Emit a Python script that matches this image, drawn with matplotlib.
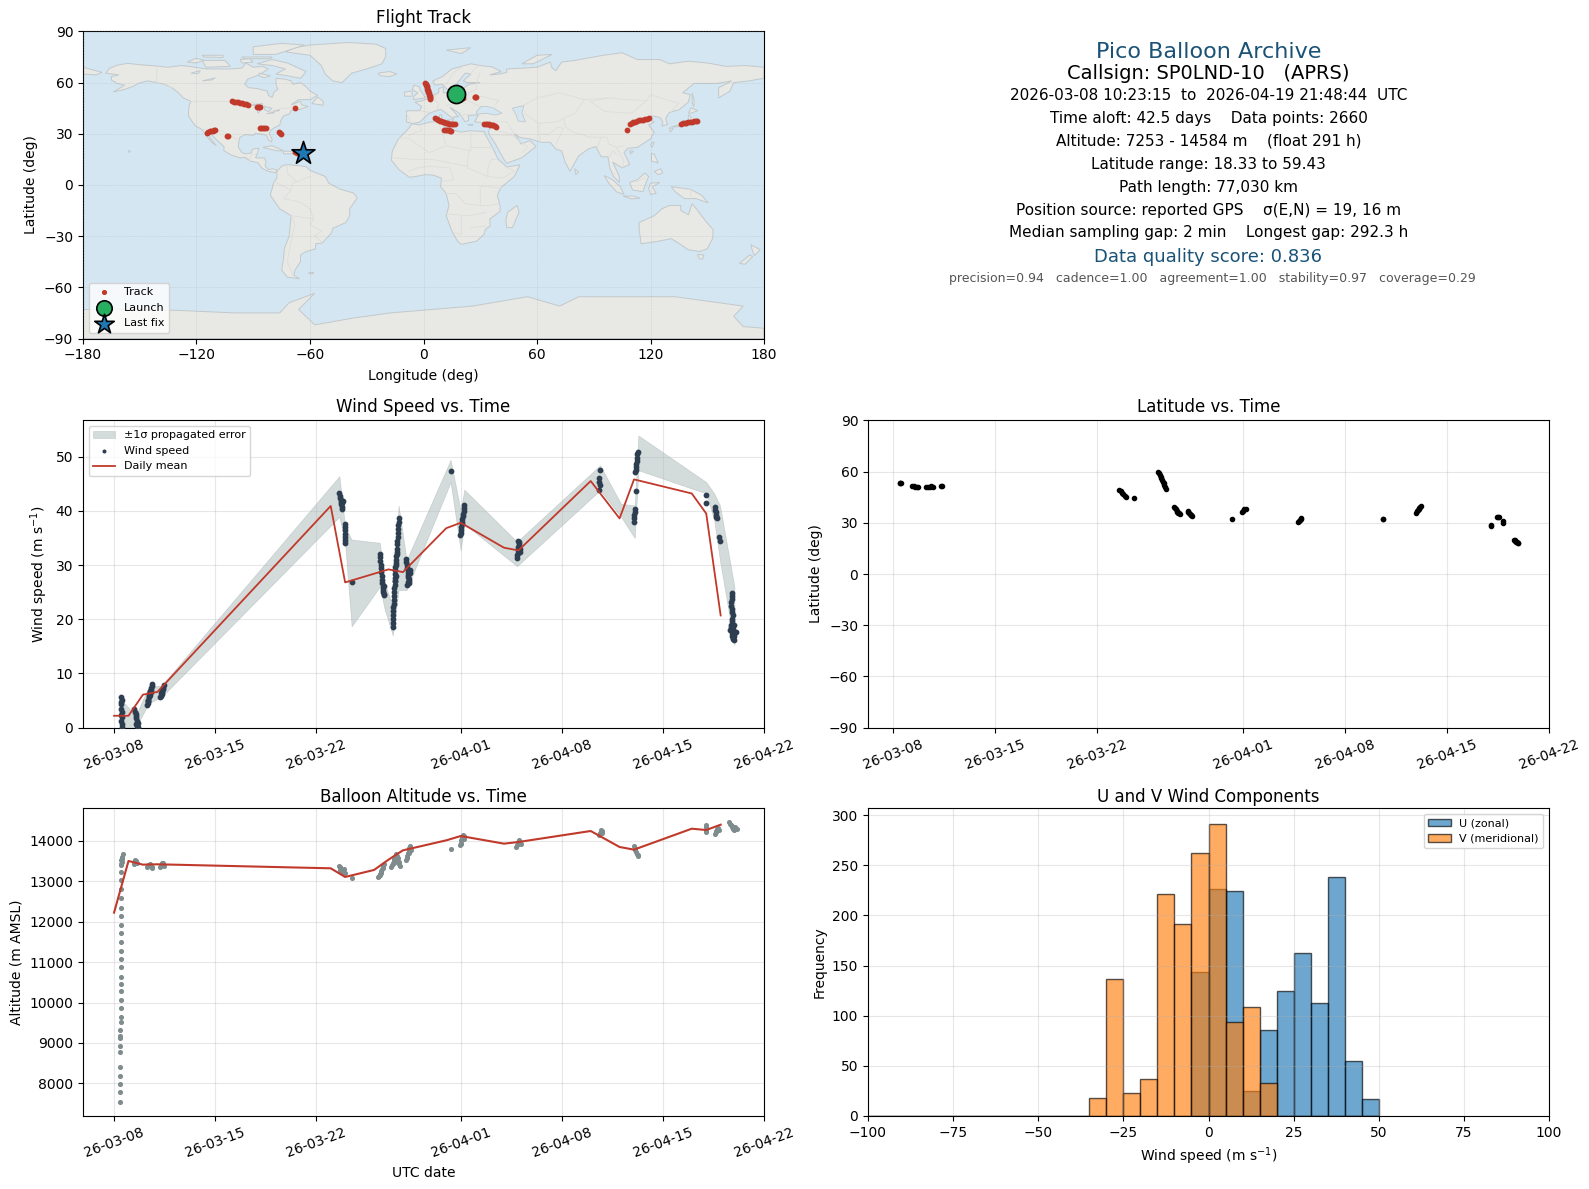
import matplotlib
matplotlib.use("Agg")
import matplotlib.pyplot as plt
import matplotlib.dates as mdates
import numpy as np
from matplotlib.patches import Polygon
from datetime import datetime

W, H = 1589, 1189
BASE = mdates.date2num(datetime(2026, 3, 8))

# ---------- map data (lon, lat) ----------
north_america = [(-168,65.5),(-166,68.3),(-162,70.2),(-156.5,71.3),(-150,70.5),(-141,69.7),(-135,69),(-128,70),(-124,69.5),(-115,68),(-108,68),(-102,68),(-96,68.5),(-94,71.5),(-90,69),(-85,69.5),(-82,68),(-87,64.5),(-93,62),(-94.5,59),(-92.5,57),(-88,56.5),(-82.5,55),(-82,52.5),(-80,51.3),(-79,54.5),(-77,56),(-78,59),(-78,62.5),(-73,62),(-70,61),(-69,59),(-65,60),(-62,57.5),(-60,55),(-56,52.5),(-60,50),(-66,50),(-70,47),(-65,49),(-64.5,47),(-61,46),(-66,44),(-67,45),(-70,43.5),(-71,41.5),(-74,40.5),(-75.5,37.5),(-76,35),(-78.5,33.8),(-81,32),(-81.5,30),(-80,26.5),(-80.5,25.2),(-82,26.5),(-83,29),(-85,29.7),(-89,30.2),(-90,29),(-94,29.6),(-97,28),(-97.7,25),(-97.8,22),(-96,19),(-94,18.2),(-91,18.7),(-90.5,21),(-87,21.5),(-88,18),(-88.8,15.9),(-84,15.8),(-83.3,14),(-83.7,11),(-82,9),(-79.5,9.5),(-77.3,8.6),(-78,7.3),(-80,7.5),(-83,8.3),(-85.5,10),(-87.5,13),(-91.5,14),(-94.5,16.2),(-97,15.8),(-101.5,17.5),(-105.5,20),(-105.5,22.5),(-109,26),(-112.5,30),(-114.8,31.7),(-112.5,27),(-109.5,23),(-112,25),(-115,29),(-117,32.5),(-120.5,34.5),(-122.5,37.5),(-124.3,40.5),(-124,46),(-123,49),(-127,51),(-130,54.5),(-133,57),(-137,59),(-141,60),(-146,61),(-151,59.5),(-153,58),(-158,56),(-164,54.5),(-158,58.5),(-162,59.5),(-165,61.5),(-165,63.5),(-161,64.5)]
greenland = [(-73,78),(-68,80.5),(-60,82),(-40,83.5),(-25,82.5),(-20,80),(-20,75),(-22,71),(-30,68),(-38,65.5),(-43,60),(-48,61),(-52,65),(-54,70),(-60,76)]
baffin = [(-80,73.5),(-72,71.5),(-67,69),(-62,66.5),(-65,62.5),(-72,64),(-78,65),(-73,68),(-80,70),(-88,71)]
victoria = [(-117,73),(-105,73),(-102,69.5),(-115,69)]
banks = [(-125,72),(-120,74.3),(-116,73),(-120,71.5)]
ellesmere = [(-90,76.5),(-78,76.5),(-63,82),(-75,83),(-90,81)]
devon = [(-96,75),(-80,75),(-81,74),(-95,74)]
melville = [(-117,76),(-106,76),(-106,74.7),(-116,75)]
somerset = [(-97,73.5),(-92,74),(-90,72),(-96,71.5)]
southampton = [(-87,65.5),(-81,64),(-84,62.8),(-87,64)]
newfoundland = [(-59,47.7),(-53,46.7),(-53,49),(-56,51.5)]
south_america = [(-77.5,8),(-75,11),(-72,12),(-68,11.5),(-62,10.7),(-60,8.5),(-52,5),(-50,1),(-44,-2.5),(-37,-4.7),(-35,-7.5),(-39,-14),(-39,-18),(-41,-22),(-48,-25.5),(-48.5,-28),(-53.5,-34),(-57,-34.5),(-57,-37.5),(-62,-39),(-65,-41),(-65,-45),(-68,-50),(-68.5,-53),(-65.5,-55),(-72,-54),(-75,-50),(-74,-43),(-73.5,-37),(-71,-30),(-70,-18),(-76,-14),(-81,-6),(-80,-2),(-79,2),(-77.5,4)]
africa = [(-6,35.8),(-2,35.2),(3,36.8),(10,37.3),(11,33.5),(15,32.3),(20,31),(25,31.8),(32.3,31.2),(32.5,29.9),(35.5,24),(37.3,20),(39.5,15),(43,11.7),(44,10.5),(51,11.8),(48,5),(41,-1.5),(39,-6),(40.5,-12),(40.5,-15.5),(35,-20),(35.3,-24),(32.7,-26),(32,-29),(28,-33),(20,-34.8),(18,-33),(15,-27),(12,-18),(13.5,-12),(12,-5),(9,-1),(9.5,4),(5,5.8),(1,6),(-4,5),(-7.5,4.5),(-13,9),(-17,14.5),(-16.5,20),(-13,27.5),(-9.5,31)]
eurasia = [(-9,37),(-6,36),(-2,36.8),(0,39),(3,42),(6,43.2),(9,44.3),(12,42),(16,38.5),(16,40),(18.5,40),(14,45.5),(19,42),(22,37),(24,38),(23.5,40.5),(27,41),(29,41),(27,37),(31,36.5),(36,36.5),(35,33),(34.3,31),(34.8,29.5),(38,24),(42.5,15),(44,12.7),(52,16),(59.5,22.5),(56.3,26),(51.5,24),(50,27),(48,30),(51,27.8),(57,26.8),(62,25),(67,25),(70,21),(73,20),(75,13),(77.5,8),(80,13),(82,17),(87,21),(91,22.5),(94,16.5),(97.5,16.5),(98.5,10),(100.5,5),(103.5,1.5),(103.5,5),(100,13.5),(102,12),(105,10),(109,12),(106,19),(108,21.5),(113,22),(120,27),(122,31),(119,35),(122,37),(118,39),(121,40.5),(125,39.5),(126.5,37),(126,34.5),(129,35.5),(128,39),(130,42.5),(135,44),(140,48.5),(141,53),(137,54),(143,59.5),(155,59.5),(163,61),(156,57),(156,51),(162,55),(164,60),(172,61),(180,62.5),(180,69),(170,70),(160,69.5),(150,71.5),(140,72.5),(130,71),(125,73.5),(113,73.5),(105,77.5),(95,76),(80,73),(73,72),(70,67),(68,68.5),(67,72),(60,69),(53,68.5),(44,68),(44,66),(40,65),(35,64.5),(41,66.5),(36,69.3),(30,70),(25,71),(15,68),(10,63.5),(5,61),(6,58.5),(10,59),(13,55.5),(17,57.5),(18,60),(22,65.5),(25,65),(21,61),(23,60),(30,60),(24,59),(21.5,57),(20,54.5),(14,54),(10.5,54),(10.5,57.5),(8,56.5),(8,54),(4,52),(0,49.5),(-4.5,48.5),(-1,46),(-2,43.5),(-9,43.5)]
chukotka = [(-180,69),(-175,67.5),(-170,66),(-173,64.5),(-180,65)]
australia = [(114,-22),(122,-18),(126,-14),(130,-12),(136,-12),(136,-15),(140,-17.5),(142,-11),(145,-15),(149,-21),(153,-26),(153,-31),(150,-37.5),(146,-39),(140,-38),(136,-35),(131,-31.5),(124,-33),(115,-34.5),(114,-26)]
tasmania = [(144.8,-40.8),(148.2,-41),(147.5,-43.4),(146,-43.4)]
nz_north = [(173,-35),(178,-38),(175,-41.5),(174,-39)]
nz_south = [(172.5,-41),(174,-42),(170,-46.5),(167,-46)]
new_guinea = [(131,-1),(141,-2.5),(147,-6),(150.5,-10.5),(144,-8),(138,-8),(133,-4)]
borneo = [(109,1.5),(113,3),(117,7),(119,5),(117.5,1),(116,-4),(110.5,-3)]
sumatra = [(95.5,5.5),(100,3),(104,-1),(106,-5.5),(102,-4),(98,1)]
java = [(105.5,-6.5),(111,-6.5),(114.5,-7.8),(110,-8.2)]
sulawesi = [(120,1),(125,1.5),(121,-1),(123,-5),(120,-5.5),(119,-2)]
luzon = [(120.5,18.5),(122,18),(124,13),(120.5,14)]
mindanao = [(122,8),(125.5,9.5),(126.5,7),(124,6)]
sri_lanka = [(80,9.5),(82,7.5),(80.5,6)]
taiwan = [(121,25),(122,25),(120.8,22),(120,23.5)]
hainan = [(109,20),(111,19.8),(109.5,18.2)]
honshu = [(131,34),(136,35.5),(140,38),(140,41),(141.5,40),(141,36),(137,34.5),(133,34)]
hokkaido = [(140,42),(141.5,45.3),(145,43.5),(141,42)]
kyushu = [(130,33.5),(132,33),(130.5,31)]
sakhalin = [(142,54),(143,50),(143,46),(142,48)]
britain = [(-5.5,50),(1,51),(0,53),(-2,56),(-2,57.5),(-5,58.5),(-6,56),(-3,54),(-5,52)]
ireland = [(-10,52),(-6,52),(-6,55),(-10,54.5)]
iceland = [(-24,65.5),(-18,66.5),(-14,65),(-18,63.5),(-23,64)]
svalbard = [(12,79),(25,80.5),(20,77)]
novaya = [(52,71),(58,71),(68,76.5),(60,76)]
madagascar = [(49.5,-12),(50.5,-16),(47,-25),(44,-25),(43.5,-21),(44.5,-16)]
cuba = [(-85,22),(-80,23),(-74,20),(-77.5,20)]
hispaniola = [(-74,19.8),(-69,19.7),(-68.5,18.3),(-74,18.2)]
falkland = [(-61,-51.5),(-58,-51.3),(-59,-52.3)]
sicily = [(12.5,38),(15.5,38.2),(15,36.8)]
sardinia = [(8.3,41),(9.7,41),(9.5,39),(8.5,39)]
crete = [(23.5,35.5),(26.2,35.2),(24,35)]
cyprus = [(32.3,35),(34.5,35.6),(33.5,34.6)]
hawaii = [(-156,20.2),(-155,19.8),(-155.6,19)]
antarctica = [(-180,-90),(-180,-73),(-150,-73),(-130,-73.5),(-100,-75),(-76,-75),(-71,-69),(-57.5,-63.5),(-66,-73),(-57.5,-82),(-37,-78),(-17.5,-75),(26,-71),(55,-65.5),(72,-71),(82,-65.5),(133,-65.5),(169,-71),(164,-77),(169,-83),(180,-84),(180,-90)]
land_polys = [north_america, greenland, baffin, victoria, banks, ellesmere, devon, melville, somerset, southampton, newfoundland, south_america, africa, eurasia, chukotka, australia, tasmania, nz_north, nz_south, new_guinea, borneo, sumatra, java, sulawesi, luzon, mindanao, sri_lanka, taiwan, hainan, honshu, hokkaido, kyushu, sakhalin, britain, ireland, iceland, svalbard, novaya, madagascar, cuba, hispaniola, falkland, sicily, sardinia, crete, cyprus, hawaii, antarctica]

black_sea = [(28,41.5),(33,42),(38,41),(41.5,42),(37,45),(33.5,46),(30.5,46),(28,43)]
caspian = [(47,45),(53,46.5),(52,42),(54,37),(50,37.5),(49,41)]
superior = [(-92,46.8),(-85,47.7),(-85,46.5)]
michigan = [(-87.5,42),(-86,44),(-85,46),(-88,45)]
huron = [(-84,46),(-80,45),(-82,43),(-84,44)]
erie = [(-83,41.7),(-79,42.8),(-79,42.2)]
ontario = [(-79.5,43.3),(-76,44),(-76.5,43.4)]
great_slave = [(-117,61),(-110,62.8),(-112,61.5)]
great_bear = [(-123,65.5),(-118,67),(-119,65.2)]
water_polys = [black_sea, caspian, superior, michigan, huron, erie, ontario, great_slave, great_bear]

border_lines = [
 [(-123,49),(-95,49),(-89,48),(-84,46.5),(-82,43),(-79,43),(-75,45),(-71,45),(-67.5,47.5)],
 [(-141,69.7),(-141,60),(-133,57)],
 [(-117,32.5),(-106,31.5),(-97.5,26)],[(-92,14.5),(-91,17.5),(-89,18)],
 [(-70,-18),(-68,-23),(-70,-33),(-72,-45),(-69,-53)],[(-58,-20),(-60,-23),(-54,-27),(-57.5,-30),(-53.5,-33.5)],
 [(-70,-18),(-58,-20),(-60,-14),(-65,-10),(-74,-8),(-70,-3),(-69,1),(-60,5)],[(-79,2),(-70,-3)],[(-72,12),(-72,7),(-67,2)],
 [(-9,42),(-7,37.5)],[(-2,43.5),(3,42.5)],[(2,51),(6,49.5),(8,47.5),(7,44)],[(14,54),(15,51),(23,49.5),(24,54)],[(6,50),(7,53.5)],
 [(24,54),(28,56),(28,60)],[(23,49.5),(30,46)],[(30,52),(40,49.5),(38,47)],[(12,46.5),(17,48),(22,48)],[(20,40),(22,41.5),(26,41.5)],
 [(12,59),(16,66),(20,69)],[(25,65.5),(29,70)],[(28,60),(30,66)],
 [(50,45),(60,51),(72,54),(85,50),(98,51),(108,50),(118,49.5),(120,53),(128,50),(135,48),(131,43)],
 [(85,50),(80,42),(74,39),(75,34),(79,31),(88,28),(97,28),(98,24),(102,22),(106,23)],[(98,51),(88,49),(96,43),(110,42),(118,49.5)],
 [(53,42),(61,36),(61,30),(62,25)],[(61,36),(71,37),(74,39)],[(61,30),(66,29.5),(71,34),(74,33),(70,24)],[(48,30),(44,37),(39,37),(36,36.5)],[(39,32),(48,29)],[(36,29.5),(47,29),(55,22),(52,19)],
 [(102,22),(104,18),(106,14),(105,10)],[(98,16),(100,20),(102,18)],[(92,22),(94,28)],
 [(-13,27.5),(-8,27.5),(-5,25),(3,19),(12,23),(25,20),(25,31.8)],[(-2,35),(-1,32),(-8,29)],[(8,37),(10,30),(12,23)],[(25,22),(36,22)],[(24,20),(23,10),(34,5),(34,10),(36,15),(39,15)],
 [(34,5),(42,4),(48,8),(43,11)],[(-16.5,16),(-5,15),(4,15),(14,13),(23,11)],[(-8,8),(-3,10),(3,11),(14,10),(16,3),(9,2)],[(12,-5),(17,-5),(22,-11),(30,-12),(30,-1),(34,-1),(41,-2)],
 [(30,-12),(35,-12),(40,-11)],[(12,-17),(24,-18),(33,-16)],[(20,-18),(20,-29),(16,-28)],[(25,-25),(33,-24)],
 [(141,-2.5),(141,-9)],[(112,1.5),(117,4)],
]

# ---------- track ----------
track_lon = [1,1.2,1.4,1.6,1.8,2,2.2,2.4,2.6,2.8,3,3.2,3.4,3.6,3.6,21,27,27.4,27.8,
 -101,-100,-99,-98,-97,-96,-95,-94,-93,-88,-87.4,-86.8,-86.2,-68,
 -114.5,-113.8,-113,-112.2,-111.5,-110.7,-110,-103.8,-103.2,-86.6,-85.8,-85,-84.2,-83.4,-76.5,-76,-75.5,
 -68,-67,-66,-65,
 6.3,7,7.8,8.6,9.4,10.2,11,11.8,12.6,13.4,14.2,15,15.8,16.5,11,11.8,12.6,13.4,14.1,14.8,
 32,32.8,33.6,34.4,35.2,36,36.8,37.6,38.4,107.8,
 109,110,111,112,113,114,115,116,117,118,119,
 136,137,138,139,140,141,142,143,144,144.4]
track_lat = [59.6,59,58.4,57.8,57.2,56.5,55.8,55.1,54.4,53.7,53,52.3,51.6,50.9,50.4,50.8,51.3,51.5,51.4,
 49.2,48.9,48.7,48.4,48.2,47.9,47.7,47.4,47,45.7,45.6,45.5,45.4,44.9,
 30.7,31,31.4,31.7,31.9,32.1,32.2,28.5,28.5,33.2,33.2,33.2,33.2,33.2,30.8,30.3,29.9,
 19.3,19,18.8,18.6,
 39,38.5,38.1,37.7,37.3,37,36.8,36.5,36.3,36,35.9,35.7,35.6,35.5,32.4,32.3,32.1,32,31.8,31.6,
 36,35.9,35.8,35.6,35.4,35.2,34.9,34.6,34.2,32,
 36,36.4,36.7,37,37.4,37.8,38,38.3,38.5,38.7,39,
 36,36.1,36.3,36.5,36.7,36.9,37,37.2,37.5,37.7]
launch_lon, launch_lat = 17.0, 53.3
last_lon, last_lat = -63.6, 18.5

# ---------- wind ----------
wind_t = [.48,.52,.5,.47,.5,.52,.48,.55,.5,.55,.52,
 1.4,1.45,1.5,1.55,1.5,1.6,1.65,1.55,1.62,1.68,
 2.3,2.32,2.35,2.38,2.4,2.42,2.45,2.5,2.52,2.55,2.58,2.6,2.62,2.35,2.48,2.58,
 3.2,3.25,3.3,3.32,3.35,3.38,3.42,3.45,3.28,
 15.6,15.62,15.65,15.68,15.7,15.72,15.75,15.78,15.8,15.85,
 16,16,16,16,16,16,16,16.5,
 18.4,18.42,18.44,18.46,18.48,18.5,18.52,18.55,18.57,18.6,18.62,18.65,18.67,18.7,18.7,
 19.7,19.7,19.68,19.68,19.66,19.65,19.62,19.6,19.58,19.56,19.55,19.52,19.5,19.48,19.46,19.45,19.45,19.42,19.42,19.4,19.38,19.38,19.35,19.35,19.32,19.32,19.3,19.3,19.3,19.3,19.62,19.55,19.45,19.5,
 20.2,20.22,20.25,20.3,20.32,20.35,20.38,20.4,20.42,20.45,20.48,20.5,20.3,20.35,
 23.3,
 23.95,24,24.02,24.05,24.08,24.1,24.12,24.15,24.18,24.2,24.22,24.25,
 27.9,27.92,27.95,27.98,28,28.02,28.05,28.08,28.1,27.95,
 33.65,33.6,33.58,33.62,33.55,
 36.25,36.22,36.2,36.2,36.15,36.15,36.12,36.1,36.12,36.05,36.05,36.02,36,36,
 41,41,41.6,41.62,41.65,41.68,41.7,41.72,41.9,41.95,
 42.75,42.78,42.8,42.7,42.72,42.75,42.78,42.82,42.8,42.75,42.72,42.7,42.68,42.75,42.8,42.88,42.9,42.85,42.92,42.88,43.05,42.95]
wind_v = [5.6,5.2,4.8,4.3,3.5,2.9,2.4,1.9,1.3,.7,.2,
 3.4,2.9,2.5,2.1,1.7,1.3,.9,.6,.3,.1,
 4.2,4.6,5.0,5.2,5.6,5.9,6.2,6.5,6.8,7.0,7.3,7.6,8.0,5.0,6.0,6.6,
 5.6,5.9,6.2,6.5,6.8,7.1,7.4,7.8,6.4,
 43.2,42.8,42.4,42,41.6,41.2,41.4,40.8,40.4,41.8,
 37.6,37,36.4,35.8,35.2,34.6,34,26.8,
 32.1,31.5,30.8,30,29.4,28.7,28,27.3,26.6,26,25.4,25,24.7,24.4,26.2,
 38.6,38,37.3,36.6,36,35.2,34.5,33.8,33,32.4,31.7,31,30.3,29.6,29,28.3,27.6,27,26.3,25.7,25,24.3,23.6,22.9,22.2,21.5,20.8,20.1,19.4,18.6,32,30,27,28,
 31.2,30.6,30,29.4,28.8,28.2,27.8,27.4,27,26.6,29,28.5,26.4,26.8,
 47.4,
 35.5,36,36.5,37,37.5,38,38.5,39,39.5,40,40.5,41,
 31.3,31.8,32.3,32.8,33.3,33.8,34.2,33,32.5,34.4,
 47.5,46,45.3,44.8,43.8,
 50.9,50.4,49.8,49.2,48.6,48,47.6,47.2,43.6,40.4,39.8,39.2,38.6,38,
 43,41.5,40.7,40.2,39.7,39.3,38.9,38.6,35.2,34.4,
 24.9,24.3,23.7,23.1,22.5,21.9,21.3,20.7,20.1,19.6,19,18.5,18,17.5,17,16.6,16.1,18.2,17,16.4,17.7,19]
band_t = [.5,1.5,2.4,3.3,15.6,16,16.45,18.4,18.75,19.3,19.7,20.25,23.3,24,24.25,27.9,33.65,35.1,36.05,36.3,41,41.55,41.95,42.95]
band_hi = [5.1,2.3,7.5,7.8,46.4,37,34.7,34.1,26.6,22.3,41,30.9,49.4,40,43.9,34.3,48.4,41.3,41,53.9,45.3,43.2,41,26]
band_lo = [0,0,4.5,5.7,38.9,34,18.7,26,21.7,17,25.4,25.4,45.3,32.7,37.6,29.8,43.8,38.9,35,47.5,43.2,38.3,30.9,15.2]
mean_t = [0,1,2,3,15,16,19,20,23,24,27,28,33,35,36,40,41,42]
mean_v = [2.2,2.2,6.1,6.6,40.9,26.8,29.2,28.7,36.8,37.8,33.2,32.7,45.5,38.6,45.8,43.2,39.5,20.7]

# ---------- altitude ----------
alt_t = [.42,.42,.43,.43,.44,.44,.44,.44,.44,.44,.45,.45,.45,.45,.45,.45,.45,.45,.45,.45,.45,.45,.45,.45,.45,.45,.45,.45,.45,.47,.5,.55,.6,.48,.52,.56,
 1.35,1.4,1.45,1.5,1.55,1.6,1.42,1.52,
 2.3,2.4,2.5,2.6,2.65,2.35,2.55,
 3.2,3.3,3.4,3.45,3.25,3.35,
 15.6,15.65,15.7,15.75,15.8,15.9,16,15.62,15.72,15.85,16.5,
 18.3,18.35,18.4,18.45,18.5,18.55,18.6,18.65,18.7,18.4,18.5,
 19.2,19.25,19.3,19.35,19.4,19.45,19.5,19.55,19.6,19.65,19.7,19.75,19.8,19.4,19.5,19.6,
 20.2,20.25,20.3,20.35,20.4,20.45,20.5,20.55,20.3,20.4,
 23.3,
 23.95,24,24.05,24.1,24.15,24.2,24.25,24.05,
 27.85,27.9,27.95,28,28.05,28.1,28.15,
 33.6,33.65,33.7,33.75,33.8,
 36,36.05,36.1,36.15,36.2,36.25,36.3,
 41,41,41,41,41.6,41.65,41.7,41.75,41.8,41.9,
 42.6,42.65,42.7,42.75,42.8,42.85,42.9,42.95,43,43.1]
alt_v = [7547,7778,7975,8189,8412,8782,8930,9128,9177,9317,9506,9654,9852,10074,10296,10469,10642,10889,11086,11284,11506,11728,11926,12148,12337,12584,12807,13029,13235,13432,13514,13597,13679,13400,13480,13550,
 13430,13480,13510,13500,13470,13440,13460,13490,
 13340,13390,13420,13360,13330,13410,13380,
 13360,13420,13450,13380,13390,13440,
 13375,13340,13300,13260,13230,13290,13210,13280,13230,13250,13080,
 13100,13130,13170,13210,13250,13290,13330,13380,13430,13150,13220,
 13350,13400,13450,13500,13550,13600,13650,13680,13620,13560,13480,13430,13380,13440,13520,13580,
 13515,13570,13630,13700,13770,13820,13870,13780,13600,13700,
 13800,
 13885,13950,14020,14080,14150,14110,14050,13920,
 13845,13890,13930,13970,14010,13960,13920,
 14150,14200,14270,14230,14180,
 13860,13810,13770,13720,13680,13640,13610,
 14210,14270,14330,14395,14170,14220,14250,14280,14310,14260,
 14460,14420,14390,14360,14330,14300,14280,14255,14330,14290]
altmean_t = [0,1,2,3,15,16,18,19,20,23,24,27,28,33,35,36,40,41,42]
altmean_v = [12222,13498,13407,13416,13317,13103,13276,13530,13761,14008,14115,13926,13967,14239,13844,13778,14296,14263,14395]

# ---------- latitude ----------
lat_t = [.45,.5,.55,1.3,1.4,1.5,1.6,1.7,2.26,2.4,2.5,2.6,2.7,3.25,3.35,
 15.5,15.6,15.7,15.8,15.9,16,16.5,
 18.2,18.25,18.3,18.35,18.4,18.45,18.5,18.55,18.6,18.65,18.7,
 19.3,19.35,19.4,19.45,19.5,19.55,19.6,19.7,
 20.2,20.25,20.3,20.35,20.4,20.45,20.5,
 23.25,
 23.9,24,24.1,24.2,
 27.8,27.85,27.9,27.95,28,
 33.6,33.62,
 35.9,35.95,36,36.05,36.1,36.15,36.2,
 41,41.02,41.5,41.55,41.45,41.85,41.87,
 42.6,42.65,42.7,42.75,42.8,42.85,42.9]
lat_v = [53.4,53.2,53.1,51.5,51.3,51.1,50.9,50.8,51.2,51.2,51.2,51.3,51.2,51.8,51.8,
 49.4,48.5,47.6,46.8,45.7,44.8,44.7,
 59.8,58.9,57.9,57,56,55,54,53,52,51,50,
 39.2,38.5,37.8,37,36.5,36,35.6,35.3,
 36.9,36.4,35.9,35.3,34.8,34.3,33.7,
 32.4,
 36.1,37,37.8,38.2,
 30.4,31,31.5,32,32.5,
 32.4,32,
 36,36.6,37.2,37.9,38.5,39.2,39.8,
 28.9,28.3,33.6,33.5,33.4,30.9,30,
 20.2,19.9,19.4,19,18.7,18.4,18.1]

# ---------- histogram ----------
hist_centers = [-32.5,-27.5,-22.5,-17.5,-12.5,-7.5,-2.5,2.5,7.5,12.5,17.5,22.5,27.5,32.5,37.5,42.5,47.5]
u_counts = [0,0,0,0,0,0,144,226,224,25,86,125,163,113,238,55,17]
v_counts = [18,137,23,37,221,191,262,291,94,109,33,0,0,0,0,0,0]
hist_edges = [-100,-95,-90,-85,-80,-75,-70,-65,-60,-55,-50,-45,-40,-35,-30,-25,-20,-15,-10,-5,0,5,10,15,20,25,30,35,40,45,50]

date_ticks = [datetime(2026,3,8),datetime(2026,3,15),datetime(2026,3,22),datetime(2026,4,1),datetime(2026,4,8),datetime(2026,4,15),datetime(2026,4,22)]

fig = plt.figure(figsize=(W/100, H/100), dpi=100)
def mk(x0, x1, y0, y1):
    return fig.add_axes([x0/W, 1-y1/H, (x1-x0)/W, (y1-y0)/H])
LX = (83, 764); RX = (868, 1549)
R1 = (31.4, 338.5); R2 = (420.3, 727.7); R3 = (808.3, 1115.8)

def fmt_dates(ax, left):
    ax.set_xticks([mdates.date2num(d) for d in date_ticks])
    ax.xaxis.set_major_formatter(mdates.DateFormatter('%y-%m-%d'))
    ax.set_xlim(left, mdates.date2num(date_ticks[-1]))
    ax.tick_params(axis='x', rotation=20)
    ax.grid(True, alpha=0.3)

# Map
ax = mk(*LX, *R1)
ax.set_facecolor('#d4e6f1')
for p in land_polys:
    ax.add_patch(Polygon(p, closed=True, fc='#e8e8e4', ec='#c2c9cc', lw=0.7, zorder=1))
for p in water_polys:
    ax.add_patch(Polygon(p, closed=True, fc='#d4e6f1', ec='#c2c9cc', lw=0.6, zorder=1.2))
for b in border_lines:
    xs, ys = zip(*b)
    ax.plot(xs, ys, color='#dddedb', lw=0.6, zorder=1.1)
ax.grid(True, ls='--', lw=0.4, color='#999999', alpha=0.3, zorder=1.5)
ax.set_axisbelow(False)
ax.scatter(track_lon, track_lat, s=10, c='#c0392b', zorder=3, label='Track')
ax.scatter([launch_lon], [launch_lat], s=170, c='#27ae60', ec='k', lw=1.2, zorder=4, label='Launch')
ax.scatter([last_lon], [last_lat], s=300, c='#1f77b4', marker='*', ec='k', lw=1.2, zorder=5, label='Last fix')
ax.set_xlim(-180, 180); ax.set_ylim(-90, 90)
ax.set_xticks(range(-180, 181, 60)); ax.set_yticks(range(-90, 91, 30))
ax.set_xlabel('Longitude (deg)', labelpad=5)
ax.set_ylabel('Latitude (deg)')
ax.set_title('Flight Track')
ax.legend(loc='lower left', fontsize=8, markerscale=0.85)

# Text panel
ax = mk(*RX, *R1)
ax.axis('off')
lines = [
 (.934, 0.5, 'Pico Balloon Archive', 16, '#1a5276'),
 (.862, 0.5, 'Callsign: SP0LND-10   (APRS)', 14, 'black'),
 (.792, 0.5, '2026-03-08 10:23:15  to  2026-04-19 21:48:44  UTC', 11, 'black'),
 (.717, 0.5, 'Time aloft: 42.5 days    Data points: 2660', 11, 'black'),
 (.644, 0.5, 'Altitude: 7253 - 14584 m    (float 291 h)', 11, 'black'),
 (.568, 0.5, 'Latitude range: 18.33 to 59.43', 11, 'black'),
 (.492, 0.5, 'Path length: 77,030 km', 11, 'black'),
 (.416, 0.5, 'Position source: reported GPS    σ(E,N) = 19, 16 m', 11, 'black'),
 (.344, 0.5, 'Median sampling gap: 2 min    Longest gap: 292.3 h', 11, 'black'),
 (.264, 0.5, 'Data quality score: 0.836', 13, '#1a5276'),
 (.195, 0.506, 'precision=0.94   cadence=1.00   agreement=1.00   stability=0.97   coverage=0.29', 9, '#555555'),
]
for y, x, s, fs, c in lines:
    ax.text(x, y, s, ha='center', va='center', fontsize=fs, color=c, transform=ax.transAxes)

# Wind
ax = mk(*LX, *R2)
ax.fill_between(BASE+np.array(band_t), band_lo, band_hi, color='#95a5a6', alpha=0.4, lw=0.5, label='±1σ propagated error')
ax.scatter(BASE+np.array(wind_t), wind_v, s=10, c='#2c3e50', label='Wind speed', zorder=3)
ax.plot(BASE+np.array(mean_t), mean_v, color='#c0392b', lw=1.3, label='Daily mean', zorder=4)
fmt_dates(ax, BASE-2.15)
ax.set_ylim(0, 56.7)
ax.set_ylabel('Wind speed (m s$^{-1}$)')
ax.set_title('Wind Speed vs. Time')
ax.legend(loc='upper left', fontsize=8, markerscale=0.6)

# Latitude
ax = mk(*RX, *R2)
ax.scatter(BASE+np.array(lat_t), lat_v, s=9, c='black', zorder=3)
fmt_dates(ax, BASE-1.73)
ax.set_ylim(-90, 90); ax.set_yticks(range(-90, 91, 30))
ax.set_ylabel('Latitude (deg)')
ax.set_title('Latitude vs. Time')

# Altitude
ax = mk(*LX, *R3)
ax.scatter(BASE+np.array(alt_t), alt_v, s=7, c='#7f8c8d', zorder=3)
ax.plot(BASE+np.array(altmean_t), altmean_v, color='#c0392b', lw=1.5, zorder=4)
fmt_dates(ax, BASE-2.15)
ax.set_ylim(7200, 14800)
ax.set_xlabel('UTC date'); ax.set_ylabel('Altitude (m AMSL)')
ax.set_title('Balloon Altitude vs. Time', pad=4.5)

# Histogram
ax = mk(*RX, *R3)
ax.hist(hist_centers, bins=hist_edges, weights=u_counts, alpha=0.65, ec='black', color='#1f77b4', label='U (zonal)')
ax.hist(hist_centers, bins=hist_edges, weights=v_counts, alpha=0.65, ec='black', color='#ff7f0e', label='V (meridional)')
ax.set_xlim(-100, 100); ax.set_ylim(0, 307)
ax.grid(True, alpha=0.3)
ax.set_xlabel('Wind speed (m s$^{-1}$)'); ax.set_ylabel('Frequency')
ax.set_title('U and V Wind Components', pad=4.5)
ax.legend(loc='upper right', fontsize=8)

fig.savefig('out.png', dpi=100)
